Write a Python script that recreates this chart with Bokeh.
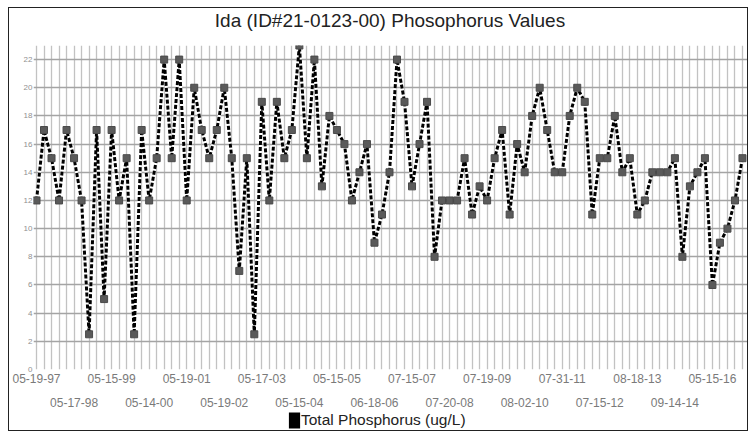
from bokeh.plotting import figure
from bokeh.layouts import column
from bokeh.models import FixedTicker, LinearAxis, Range1d, Legend, LegendItem, Div
from bokeh.embed import file_html
from bokeh.resources import INLINE

title_text = "Ida (ID#21-0123-00) Phosophorus Values"
series_name = "Total Phosphorus (ug/L)"

values = [12, 17, 15, 12, 17, 15, 12, 2.5, 17, 5, 17, 12, 15, 2.5, 17, 12, 15, 22, 15,
          22, 12, 20, 17, 15, 17, 20, 15, 7, 15, 2.5, 19, 12, 19, 15, 17, 23, 15, 22,
          13, 18, 17, 16, 12, 14, 16, 9, 11, 14, 22, 19, 13, 16, 19, 8, 12, 12,
          12, 15, 11, 13, 12, 15, 17, 11, 16, 14, 18, 20, 17, 14, 14, 18, 20, 19, 11,
          15, 15, 18, 14, 15, 11, 12, 14, 14, 14, 15, 8, 13, 14, 15, 6, 9, 10, 12, 15]

row1_idx = [0, 10, 20, 30, 40, 50, 60, 70, 80, 90]
row1_labels = ["05-19-97", "05-15-99", "05-19-01", "05-17-03", "05-15-05",
               "07-15-07", "07-19-09", "07-31-11", "08-18-13", "05-15-16"]
row2_idx = [5, 15, 25, 35, 45, 55, 65, 75, 85]
row2_labels = ["05-17-98", "05-14-00", "05-19-02", "05-15-04", "06-18-06",
               "07-20-08", "08-02-10", "07-15-12", "09-14-14"]
y_ticks = [0, 2, 4, 6, 8, 10, 12, 14, 16, 18, 20, 22]

x = list(range(len(values)))

FONT = "Liberation Sans"

# title strip
title_div = Div(text=title_text, width=738, height=37, margin=0,
                styles={"box-sizing": "border-box", "padding-left": "24px",
                        "text-align": "center", "font-family": FONT,
                        "font-size": "19px", "line-height": "25px",
                        "color": "#222222", "white-space": "nowrap"})

p = figure(width=738, height=365, output_backend="svg", toolbar_location=None,
           x_range=Range1d(-0.4, len(values) - 1 + 0.67), y_range=Range1d(0, 23),
           min_border_left=24, min_border_right=0,
           min_border_top=0, min_border_bottom=41)
p.outline_line_color = None
p.background_fill_color = "white"

# grids
p.xgrid.ticker = FixedTicker(ticks=x)
p.xgrid.grid_line_color = "#c2c2c2"
p.xgrid.grid_line_width = 1.3
p.ygrid.ticker = FixedTicker(ticks=y_ticks)
p.ygrid.grid_line_color = "#a4a4a4"
p.ygrid.grid_line_width = 1.5

# y axis
p.yaxis.ticker = FixedTicker(ticks=y_ticks)
p.yaxis.axis_line_color = None
p.yaxis.major_tick_line_color = None
p.yaxis.minor_tick_line_color = None
p.yaxis.major_tick_out = 0
p.yaxis.major_tick_in = 0
p.yaxis.major_label_text_font = FONT
p.yaxis.major_label_text_font_size = "8px"
p.yaxis.major_label_text_color = "#909090"
p.yaxis.major_label_standoff = 1

# x axis row 1
ax1 = p.xaxis[0]
ax1.ticker = FixedTicker(ticks=row1_idx)
ax1.major_label_overrides = {i: s for i, s in zip(row1_idx, row1_labels)}
ax1.axis_line_color = None
ax1.major_tick_line_color = None
ax1.minor_tick_line_color = None
ax1.major_label_text_font = FONT
ax1.major_label_text_font_size = "12px"
ax1.major_label_text_color = "#7a7a7a"
ax1.major_label_standoff = -2

# x axis row 2
ax2 = LinearAxis(ticker=FixedTicker(ticks=row2_idx),
                 major_label_overrides={i: s for i, s in zip(row2_idx, row2_labels)})
ax2.axis_line_color = None
ax2.major_tick_line_color = None
ax2.minor_tick_line_color = None
ax2.major_label_text_font = FONT
ax2.major_label_text_font_size = "12px"
ax2.major_label_text_color = "#7a7a7a"
ax2.major_label_standoff = 6
p.add_layout(ax2, "below")

# series
p.line(x, values, line_color="white", line_width=3)
p.line(x, values, line_color="black", line_width=3, line_dash="4 2")
p.scatter(x, values, marker="square", size=7, fill_color="#5a5a5a", line_color="#4a4a4a")

# legend strip below the chart
nan = float("nan")
p2 = figure(width=738, height=20, output_backend="svg", toolbar_location=None,
            x_axis_type=None, y_axis_type=None, min_border=0,
            x_range=Range1d(0, 1), y_range=Range1d(0, 1))
p2.outline_line_color = None
p2.xgrid.visible = False
p2.ygrid.visible = False
swatch = p2.quad(left=[nan], right=[nan], top=[nan], bottom=[nan],
                 fill_color="black", line_color=None)
legend = Legend(items=[LegendItem(label=series_name, renderers=[swatch])],
                location=(254, 0), orientation="horizontal",
                glyph_width=14, glyph_height=20,
                label_text_font=FONT, label_text_font_size="15.5px",
                label_text_color="#222222", label_standoff=0,
                border_line_color=None, background_fill_alpha=0,
                padding=0, margin=0)
p2.add_layout(legend)

layout = column(title_div, p, p2, styles={"margin-left": "8px", "margin-top": "7px",
                                          "border": "1px solid #222222"})

open("out.html", "w").write(file_html(layout, INLINE))
